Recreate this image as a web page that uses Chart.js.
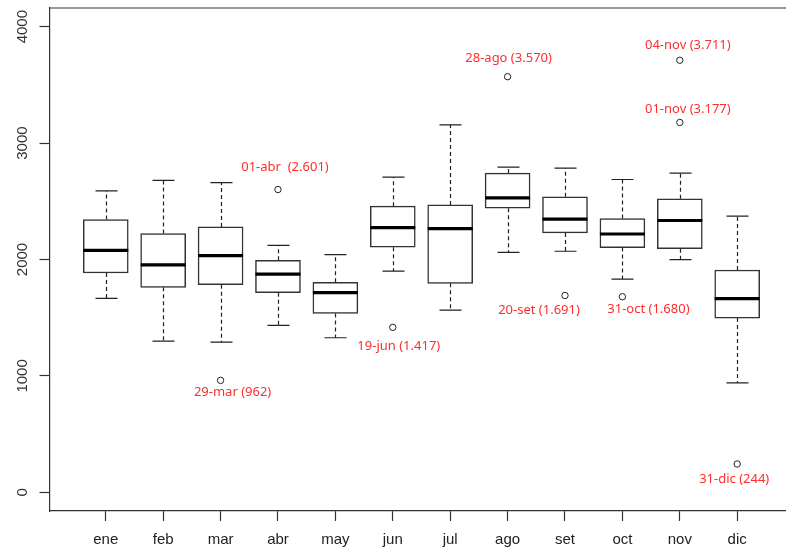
<!DOCTYPE html>
<html>
<head>
<meta charset="utf-8">
<script src="https://cdn.jsdelivr.net/npm/chart.js@4"></script>
<style>
  html, body { margin: 0; padding: 0; background: #fff; }
  #wrap { width: 786px; height: 554px; }
</style>
</head>
<body>
<div id="wrap"><canvas id="myChart" width="786" height="554"></canvas></div>
<script>
// monthly boxplot stats
const months = ['ene', 'feb', 'mar', 'abr', 'may', 'jun', 'jul', 'ago', 'set', 'oct', 'nov', 'dic'];
const lowWhisker  = [1666, 1299, 1290, 1434, 1328, 1901, 1566, 2062, 2071, 1832, 1999,  941];
const q1          = [1884, 1761, 1784, 1715, 1537, 2105, 1795, 2440, 2228, 2102, 2093, 1497];
const median      = [2079, 1953, 2033, 1875, 1715, 2274, 2266, 2529, 2346, 2219, 2335, 1664];
const q3          = [2343, 2223, 2280, 1993, 1804, 2458, 2469, 2742, 2538, 2352, 2521, 1910];
const highWhisker = [2589, 2679, 2661, 2122, 2042, 2707, 3157, 2793, 2785, 2687, 2742, 2372];

// outliers (month number 1..12)
const outlierMonth = [3, 4, 6, 8, 9, 10, 11, 11, 12];
const outlierValue = [962, 2601, 1417, 3570, 1691, 1680, 3177, 3711, 244];
const outlierLabel = ['29-mar (962)', '01-abr  (2.601)', '19-jun (1.417)', '28-ago (3.570)',
                      '20-set (1.691)', '31-oct (1.680)', '01-nov (3.177)', '04-nov (3.711)', '31-dic (244)'];

const yTicks = [0, 1000, 2000, 3000, 4000];

// where each label sits relative to its point (px)
const labelOffset = [[12, 12], [7, -22], [6, 19], [1, -18], [-26, 15], [26, 13], [8, -13], [8, -15], [-3, 15]];

const boxParts = {
    id: 'boxParts',
    afterDatasetsDraw(chart) {
        const ctx = chart.ctx;
        const xs = chart.scales.x, ys = chart.scales.y;
        const area = chart.chartArea;
        const cap = 11;

        ctx.save();
        // whiskers
        ctx.strokeStyle = '#222';
        ctx.lineWidth = 1.2;
        for (let i = 0; i < months.length; i++) {
            const x = Math.round(xs.getPixelForValue(i + 1)) + 0.5;
            ctx.setLineDash([4, 3]);
            ctx.beginPath();
            ctx.moveTo(x, ys.getPixelForValue(q3[i]));
            ctx.lineTo(x, ys.getPixelForValue(highWhisker[i]));
            ctx.moveTo(x, ys.getPixelForValue(q1[i]));
            ctx.lineTo(x, ys.getPixelForValue(lowWhisker[i]));
            ctx.stroke();
            ctx.setLineDash([]);
            ctx.beginPath();
            ctx.moveTo(x - cap, ys.getPixelForValue(highWhisker[i]));
            ctx.lineTo(x + cap, ys.getPixelForValue(highWhisker[i]));
            ctx.moveTo(x - cap, ys.getPixelForValue(lowWhisker[i]));
            ctx.lineTo(x + cap, ys.getPixelForValue(lowWhisker[i]));
            ctx.stroke();
        }
        // medians
        ctx.strokeStyle = '#000';
        ctx.lineWidth = 3.2;
        for (let i = 0; i < months.length; i++) {
            const x = xs.getPixelForValue(i + 1);
            const y = ys.getPixelForValue(median[i]);
            ctx.beginPath();
            ctx.moveTo(x - 22.5, y);
            ctx.lineTo(x + 22.5, y);
            ctx.stroke();
        }
        // outlier labels
        ctx.fillStyle = '#ff2e2e';
        ctx.font = '13px "Noto Sans"';
        ctx.textAlign = 'center';
        ctx.textBaseline = 'middle';
        for (let i = 0; i < outlierLabel.length; i++) {
            const x = xs.getPixelForValue(outlierMonth[i]) + labelOffset[i][0];
            const y = ys.getPixelForValue(outlierValue[i]) + labelOffset[i][1];
            ctx.fillText(outlierLabel[i], x, y);
        }
        // top frame line
        ctx.strokeStyle = '#333';
        ctx.lineWidth = 1.2;
        ctx.beginPath();
        ctx.moveTo(area.left, area.top);
        ctx.lineTo(chart.width, area.top);
        ctx.stroke();
        // y tick labels, rotated like R
        ctx.fillStyle = '#333';
        ctx.font = '15px "Liberation Sans", Arial';
        ctx.textAlign = 'center';
        ctx.textBaseline = 'middle';
        yTicks.forEach(v => {
            ctx.save();
            ctx.translate(23, ys.getPixelForValue(v));
            ctx.rotate(-Math.PI / 2);
            ctx.fillText(String(v), 0, 0);
            ctx.restore();
        });
        ctx.restore();
    }
};

const ctx = document.getElementById('myChart').getContext('2d');
const chart = new Chart(ctx, {
    type: 'bar',
    data: {
        datasets: [
            {
                label: 'box',
                data: months.map((m, i) => ({ x: i + 1, y: [q1[i], q3[i]] })),
                backgroundColor: '#fff',
                borderColor: '#333',
                borderWidth: 1.5,
                borderSkipped: false,
                barThickness: 45,
                order: 2
            },
            {
                type: 'scatter',
                label: 'outliers',
                data: outlierMonth.map((m, i) => ({ x: m, y: outlierValue[i] })),
                pointRadius: 3.2,
                pointBackgroundColor: '#fff',
                pointBorderColor: '#222',
                pointBorderWidth: 1,
                order: 1
            }
        ]
    },
    options: {
        responsive: false,
        animation: false,
        layout: { autoPadding: false, padding: { top: 8, right: 0, left: 0, bottom: 0 } },
        plugins: {
            legend: { display: false },
            tooltip: { enabled: false }
        },
        scales: {
            x: {
                type: 'linear',
                offset: false,
                min: 0.02,
                max: 12.85,
                afterBuildTicks: s => { s.ticks = months.map((m, i) => ({ value: i + 1 })); },
                afterFit: s => { s.height = 43; s.paddingLeft = 0; s.paddingRight = 0; },
                grid: { offset: false, drawOnChartArea: false, tickLength: 10, color: '#333', tickWidth: 1.2 },
                border: { display: true, color: '#333', width: 1.2 },
                ticks: {
                    autoSkip: false,
                    maxRotation: 0,
                    padding: 10,
                    color: '#222',
                    font: { family: '"Liberation Sans", Arial', size: 15 },
                    callback: v => months[Math.round(v) - 1]
                }
            },
            y: {
                min: -160,
                max: 4160,
                afterBuildTicks: s => { s.ticks = yTicks.map(v => ({ value: v })); },
                afterFit: s => { s.width = 49.5; s.paddingTop = 0; s.paddingBottom = 0; },
                grid: { drawOnChartArea: false, tickLength: 10, color: '#333', tickWidth: 1.2 },
                border: { display: true, color: '#333', width: 1.2 },
                ticks: { display: false }
            }
        }
    },
    plugins: [boxParts]
});
</script>
</body>
</html>
